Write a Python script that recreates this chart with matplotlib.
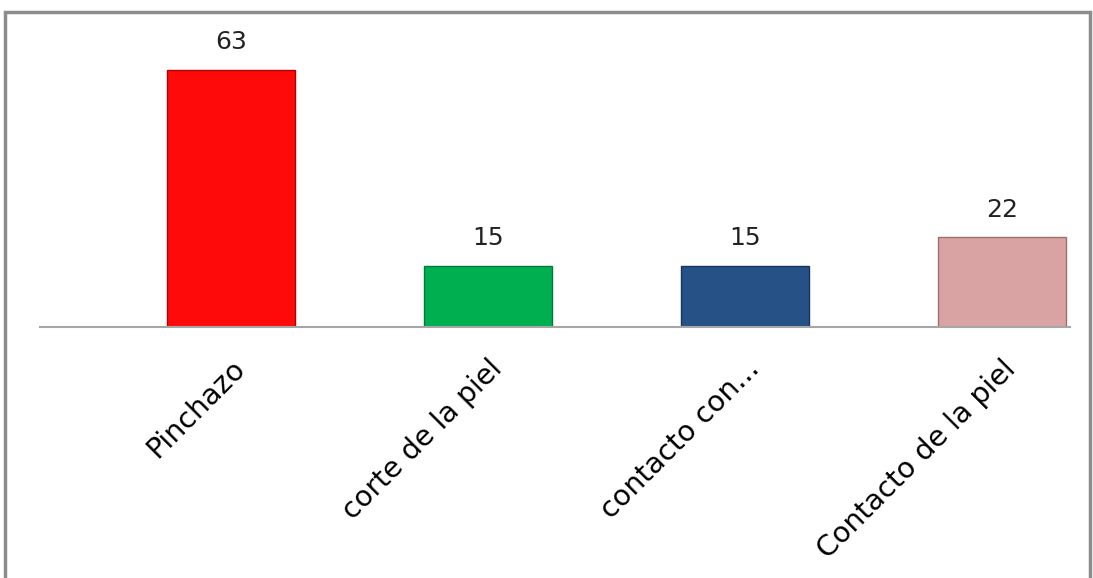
import matplotlib

matplotlib.use("Agg")
import matplotlib.pyplot as plt
from matplotlib.patches import Rectangle

categories = ["Pinchazo", "corte de la piel", "contacto con...", "Contacto de la piel"]
values = [63, 15, 15, 22]
colors = ["#ff0a0a", "#00b050", "#255186", "#d9a3a3"]
edges = ["#b00000", "#007a38", "#16365c", "#9c6f6f"]

fig = plt.figure(figsize=(10.93, 5.78), dpi=100)
ax = fig.add_axes([40 / 1093, 1 - 327 / 578, 1030 / 1093, 285.6 / 578])

x = range(len(categories))
bars = ax.bar(x, values, width=0.5, color=colors, edgecolor=edges, linewidth=1.0)

for rect, v in zip(bars, values):
    ax.text(rect.get_x() + rect.get_width() / 2, v + 3.8, str(v),
            ha="center", va="bottom", fontsize=18, color="#222222")

# category slots are ~257 px apart, first bar centred at ~231 px
ax.set_xlim(-0.743, 3.265)
ax.set_ylim(0, 70)
ax.set_yticks([])
ax.set_xticks(list(x))
ax.set_xticklabels(categories, rotation=45, ha="right", rotation_mode="anchor",
                   fontsize=20.5)
ax.tick_params(axis="x", length=0, pad=20)
for s in ("top", "left", "right"):
    ax.spines[s].set_visible(False)
ax.spines["bottom"].set_color("#a6a6a6")
ax.spines["bottom"].set_linewidth(1.5)

# outer frame of the chart area
fig.patches.append(Rectangle((5 / 1093, -0.05), 1085 / 1093, 1.05 - 12 / 578,
                             transform=fig.transFigure, fill=False,
                             edgecolor="#8c8c8c", linewidth=2.5))

fig.savefig("out.png", dpi=100)
